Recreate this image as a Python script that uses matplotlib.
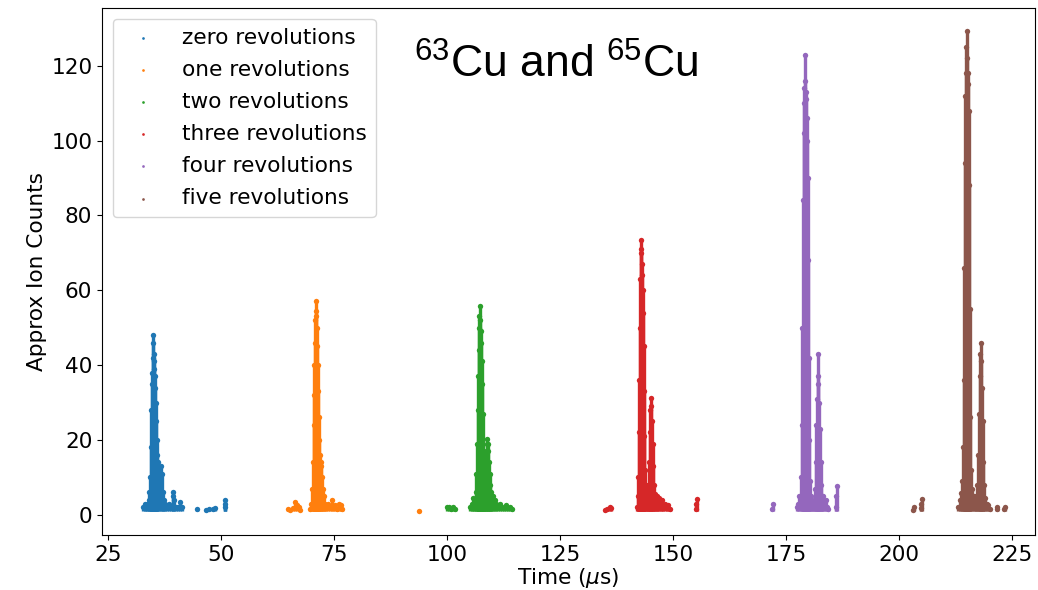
import matplotlib
matplotlib.use("Agg")
import matplotlib.pyplot as plt

# ---------------- data ----------------
labels = ["zero revolutions", "one revolutions", "two revolutions",
          "three revolutions", "four revolutions", "five revolutions"]

zero_t = [32.8, 33.1, 33.4, 33.7, 34.0, 34.2, 34.35, 34.5, 34.6, 34.7, 34.8, 34.9,
          35.0, 35.05, 35.1, 35.2, 35.3, 35.4, 35.5, 35.6, 35.7, 35.8, 35.95, 36.1,
          36.4, 36.7, 36.9, 37.1, 37.4, 37.7, 38.1, 38.5, 38.9, 39.3, 39.45, 39.6,
          40.0, 40.5, 40.9, 41.3, 44.8, 46.6, 47.3, 48.3, 48.8, 50.8, 50.9, 51.0]
zero_c = [2, 3, 2, 3, 4, 6, 10, 18, 28, 35, 38, 42,
          48, 46, 43, 41, 39, 37, 34, 30, 25, 20, 16, 14,
          12, 13, 11, 6, 4, 3, 2, 3, 2, 5, 6, 4,
          2, 2, 3.5, 2, 1.5, 1.4, 1.6, 1.5, 1.8, 2.0, 3.0, 4.0]

one_t = [64.9, 65.3, 65.9, 66.5, 66.8, 67.2, 67.5, 69.8, 70.0, 70.2, 70.35, 70.5,
         70.6, 70.7, 70.8, 70.9, 71.0, 71.05, 71.1, 71.2, 71.3, 71.4, 71.5, 71.6,
         71.75, 71.9, 72.05, 72.2, 72.35, 72.5, 72.7, 73.0, 73.3, 73.7, 74.1, 74.5,
         74.9, 75.3, 75.7, 76.1, 76.5, 76.7, 93.8]
one_c = [1.5, 1.2, 1.8, 3.5, 2.5, 2.0, 1.3, 1.5, 3, 7, 14, 24,
         32, 40, 46, 52, 57, 54.5, 53, 50, 45, 40, 33, 26,
         20, 16, 14, 13, 10, 7, 5, 3, 2.5, 3, 2, 4,
         2, 2.5, 1.5, 3, 2.5, 1.5, 1.0]

two_t = [100.0, 100.4, 100.9, 101.4, 101.8, 105.1, 105.5, 105.8, 106.1, 106.35, 106.5,
         106.65, 106.8, 106.9, 107.0, 107.1, 107.2, 107.3, 107.4, 107.5, 107.6, 107.7,
         107.8, 107.9, 108.0, 108.15, 108.3, 108.45, 108.6, 108.75, 108.9, 109.0,
         109.15, 109.3, 109.45, 109.6, 109.8, 110.0, 110.3, 110.6, 110.9, 111.3,
         111.7, 112.1, 112.6, 113.0, 113.5, 114.0, 114.3]
two_c = [2.0, 2.2, 1.6, 2.0, 1.5, 2, 3, 4.5, 3, 6, 11,
         19, 28, 37, 44, 50, 53, 55.9, 52, 49, 46, 41,
         35, 27, 19, 14, 12, 13, 15, 17, 20.2, 19,
         17, 14, 11, 8, 6, 4, 5, 4, 3, 2.5,
         3, 2, 1.8, 2.5, 1.8, 2, 1.5]

three_t = [135.0, 135.5, 136.0, 136.4, 142.0, 142.2, 142.35, 142.5, 142.6, 142.7,
           142.8, 142.9, 142.95, 143.0, 143.1, 143.2, 143.3, 143.4, 143.5, 143.6,
           143.7, 143.85, 144.0, 144.2, 144.4, 144.55, 144.7, 144.85, 145.0, 145.1,
           145.2, 145.35, 145.5, 145.65, 145.8, 146.0, 146.2, 146.4, 146.7, 147.0,
           147.3, 147.6, 147.9, 148.2, 148.6, 149.0, 149.3, 155.1, 155.2, 155.3]
three_c = [1.3, 1.6, 2.2, 1.8, 2, 5, 10, 22, 36, 50,
           63, 70, 73.5, 71, 67, 64, 60, 54, 45, 33,
           21, 12, 8, 6, 6, 8, 14, 22, 28, 31.3,
           29, 25, 19, 13, 8, 5.5, 4, 4.9, 3.5, 4.5,
           3, 4, 2.5, 3, 2, 2.5, 1.5, 1.5, 3, 4.3]

four_t = [172.0, 172.05, 177.4, 177.7, 178.0, 178.3, 178.5, 178.65, 178.8, 178.9,
          179.0, 179.1, 179.2, 179.3, 179.4, 179.5, 179.6, 179.7, 179.8, 179.9,
          180.05, 180.2, 180.4, 180.6, 180.8, 181.0, 181.2, 181.4, 181.6, 181.75,
          181.9, 182.0, 182.1, 182.2, 182.35, 182.5, 182.65, 182.8, 183.0, 183.2,
          183.5, 183.8, 184.1, 184.4, 186.1, 186.15, 186.2]
four_c = [1.5, 3.0, 2, 3, 5, 10, 24, 50, 84, 102,
          110, 114, 122.9, 116, 113, 111, 106, 100, 90, 68,
          42, 20, 9, 5, 3, 3.5, 4, 7, 14, 24,
          31, 37, 42.9, 35, 30, 23, 14, 8, 5, 5,
          3, 4, 2, 1.5, 2, 5, 7.6]

five_t = [203.2, 203.25, 204.9, 204.95, 205.0, 213.1, 213.4, 213.7, 214.0, 214.2,
          214.35, 214.5, 214.6, 214.7, 214.8, 214.9, 215.0, 215.1, 215.2, 215.3,
          215.4, 215.5, 215.65, 215.8, 216.0, 216.2, 216.5, 216.8, 217.1, 217.3,
          217.5, 217.7, 217.85, 218.0, 218.1, 218.2, 218.35, 218.5, 218.7, 218.9,
          219.1, 219.4, 219.7, 220.1, 221.6, 221.7, 223.3, 223.5]
five_c = [1.3, 2.2, 1.8, 3.0, 4.3, 2, 4, 5.9, 9, 18,
          36, 66, 94, 112, 118, 125, 129.2, 122, 118, 115,
          108, 88, 55, 26, 12, 7, 5, 4.5, 5, 8,
          16, 27, 37, 43, 46, 41, 34, 25, 14, 8,
          4.5, 3, 2.5, 1.5, 1.5, 2.0, 1.5, 2.2]

series_t = [zero_t, one_t, two_t, three_t, four_t, five_t]
series_c = [zero_c, one_c, two_c, three_c, four_c, five_c]
BASELINE = 1.0

# ---------------- figure ----------------
plt.rcParams["mathtext.rm"] = "Liberation Sans"
plt.rcParams["mathtext.it"] = "Liberation Sans:italic"
plt.rcParams["mathtext.bf"] = "Liberation Sans:bold"

FS = 15.6
fig = plt.figure(figsize=(10.38, 5.9), dpi=100)
ax = fig.add_axes([0.0983, 0.0932, 0.8988, 0.8932])

for i, (t, c, lab) in enumerate(zip(series_t, series_c, labels)):
    col = f"C{i}"
    ax.vlines(t, BASELINE, c, colors=col, linewidth=2.4, zorder=2)
    ax.scatter(t, c, s=15, color=col, label=lab, zorder=3, linewidths=0)

ax.set_xlim(23.7, 230.1)
ax.set_ylim(-5.4, 135.4)
ax.set_xticks([25, 50, 75, 100, 125, 150, 175, 200, 225])
ax.set_yticks([0, 20, 40, 60, 80, 100, 120])
ax.tick_params(labelsize=FS)
ax.set_xlabel(r"Time ($\mu$s)", fontsize=FS, labelpad=1)
ax.set_ylabel("Approx Ion Counts", fontsize=FS, labelpad=3)

ax.text(0.4866, 0.867, r"$^{63}$Cu and $^{65}$Cu", transform=ax.transAxes,
        fontsize=32, family="Liberation Sans", math_fontfamily="custom",
        ha="center", va="baseline")

ax.legend(loc="upper left", fontsize=FS, markerscale=0.5,
          borderaxespad=0.5, labelspacing=0.56)

fig.savefig("out.png", dpi=100)
